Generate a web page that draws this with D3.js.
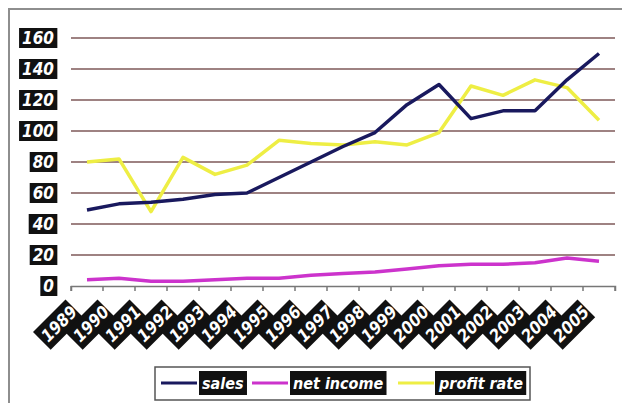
<!DOCTYPE html>
<html>
<head>
<meta charset="utf-8">
<script src="https://cdn.jsdelivr.net/npm/d3@7"></script>
<style>
  html, body { margin: 0; padding: 0; background: #fff; }
  svg { display: block; }
  .lbl { font-family: "DejaVu Sans Condensed", "DejaVu Sans", sans-serif; font-weight: bold; font-style: italic; fill: #fff; }
</style>
</head>
<body>
<div id="chart"></div>
<script>
const years = ['1989', '1990', '1991', '1992', '1993', '1994', '1995', '1996', '1997',
    '1998', '1999', '2000', '2001', '2002', '2003', '2004', '2005'];
const sales = [49, 53, 54, 56, 59, 60, 70, 80, 90, 99, 117, 130, 108, 113, 113, 133, 150];
const netIncome = [4, 5, 3, 3, 4, 5, 5, 7, 8, 9, 11, 13, 14, 14, 15, 18, 16];
const profitRate = [80, 82, 48, 83, 72, 78, 94, 92, 91, 93, 91, 99, 129, 123, 133, 128, 107];
const yTicks = [0, 20, 40, 60, 80, 100, 120, 140, 160];
const seriesNames = ['sales', 'net income', 'profit rate'];
const seriesColors = ['#19195e', '#cc33cc', '#eeee44'];

(function () {
    const width = 622;
    const height = 403;

    const svg = d3.select('#chart').append('svg')
        .attr('width', width).attr('height', height);

    // outer frame (runs off the right/bottom edge)
    svg.append('rect')
        .attr('x', 9).attr('y', 9)
        .attr('width', 630).attr('height', 420)
        .attr('fill', '#fff')
        .attr('stroke', '#8e8e8e').attr('stroke-width', 2);

    const x = d3.scaleBand().domain(years).range([71, 615]).padding(0);
    const y = d3.scaleLinear().domain([0, 160]).range([286, 38]);
    const cx = d => x(d) + x.bandwidth() / 2;

    // gridlines
    svg.append('g').selectAll('line')
        .data(yTicks.filter(v => v > 0))
        .enter().append('line')
        .attr('x1', 71).attr('x2', 615)
        .attr('y1', d => y(d)).attr('y2', d => y(d))
        .attr('stroke', '#7e5858').attr('stroke-width', 1.5);

    // y labels: white text on black boxes
    const yl = svg.append('g').selectAll('g')
        .data(yTicks).enter().append('g');
    yl.append('rect').attr('fill', '#111');
    yl.append('text')
        .attr('class', 'lbl')
        .attr('font-size', 17)
        .attr('text-anchor', 'end')
        .attr('x', 54)
        .attr('y', d => y(d) + 6)
        .text(d => d);
    yl.each(function () {
        const b = d3.select(this).select('text').node().getBBox();
        d3.select(this).select('rect')
            .attr('x', b.x - 3).attr('y', b.y)
            .attr('width', b.width + 6).attr('height', b.height);
    });

    // x axis
    const xAxis = d3.axisBottom(x).tickSize(5).tickFormat('');
    const ax = svg.append('g').attr('transform', 'translate(0,286)').call(xAxis);
    ax.select('.domain').attr('stroke', '#777').attr('stroke-width', 1.5);
    ax.selectAll('.tick line').attr('stroke', '#777').attr('stroke-width', 1.5)
        .attr('transform', `translate(${-x.bandwidth() / 2},0)`);
    ax.append('line')
        .attr('x1', 615).attr('x2', 615).attr('y1', 0).attr('y2', 5)
        .attr('stroke', '#777').attr('stroke-width', 1.5);

    // x labels, rotated boxes that overlap each other
    const xl = svg.append('g').selectAll('g')
        .data(years).enter().append('g')
        .attr('transform', d => `translate(${cx(d) - 13},308) rotate(-45)`);
    xl.append('rect')
        .attr('x', -46).attr('y', -12)
        .attr('width', 46).attr('height', 25)
        .attr('fill', '#111');
    xl.append('text')
        .attr('class', 'lbl')
        .attr('font-size', 17)
        .attr('x', -43).attr('y', 6.5)
        .text(d => d);

    // lines
    const lineGen = d3.line().x((d, i) => cx(years[i])).y(d => y(d));
    const layer = svg.append('g');
    [profitRate, sales, netIncome].forEach((s, k) => {
        const idx = [2, 0, 1][k];
        layer.append('path')
            .attr('d', lineGen(s))
            .attr('fill', 'none')
            .attr('stroke', seriesColors[idx])
            .attr('stroke-width', 3.5)
            .attr('stroke-linejoin', 'round');
    });

    // legend
    const lg = svg.append('g');
    lg.append('rect')
        .attr('x', 155).attr('y', 367).attr('width', 375).attr('height', 33)
        .attr('fill', '#fff').attr('stroke', '#555').attr('stroke-width', 1.5);
    const legendX = [161, 252, 398];
    seriesNames.forEach((n, i) => {
        const g = lg.append('g').attr('transform', `translate(${legendX[i]},383)`);
        g.append('line')
            .attr('x1', 0).attr('x2', 36).attr('y1', 0).attr('y2', 0)
            .attr('stroke', seriesColors[i]).attr('stroke-width', 3);
        const r = g.append('rect').attr('fill', '#111');
        const t = g.append('text')
            .attr('class', 'lbl')
            .attr('font-size', 16)
            .attr('x', 41).attr('y', 6)
            .text(n);
        const b = t.node().getBBox();
        r.attr('x', b.x - 3).attr('y', -12)
            .attr('width', b.width + 6).attr('height', 24);
    });
})();
</script>
</body>
</html>
